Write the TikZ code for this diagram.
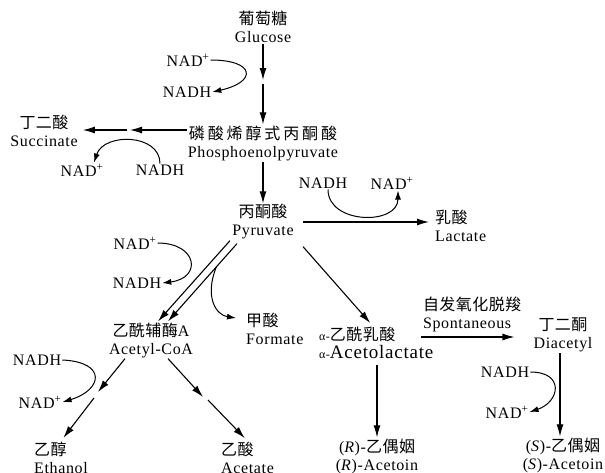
\documentclass[tikz,border=0pt]{standalone}
\usepackage{fontspec}
\setmainfont{Liberation Serif}[LetterSpace=4]
\newfontfamily\zh{Noto Sans CJK SC}[LetterSpace=3]
\usetikzlibrary{arrows.meta}
\tikzset{>=Latex}
\tikzset{
  cmpd/.style = {align = center, inner sep = 1pt, font = \fontsize{16}{18}\selectfont},
  cmpdl/.style = {cmpd, align = left, anchor = west},
  cof/.style = {inner sep = 1pt, font = \fontsize{16}{18}\selectfont},
  flow/.style = {draw, line width = 1.1pt, -{Latex[length = 12pt, width = 7pt]}},
  redox/.style = {draw, line width = 1pt, -{Latex[length = 9pt, width = 6pt]}}
}

\begin{document}
\begin{tikzpicture}[x = 1pt, y = -1pt]
\useasboundingbox (0, 0) rectangle (605, 472);

\node[cmpd] (glc) at (263, 27) {{\zh 葡萄糖}\\Glucose};
\node[cmpd] (pep) at (263, 143) {{\zh\addfontfeature{LetterSpace = 18}磷酸烯醇式丙酮酸}\\Phosphoenolpyruvate};
\node[cmpd] (succ) at (44, 131) {{\zh 丁二酸}\\Succinate};
\node[cmpd] (pyr) at (263, 222) {{\zh 丙酮酸}\\Pyruvate};
\node[cmpdl] (lact) at (434, 226) {{\zh 乳酸}\\Lactate};
\node[cmpd] (acoa) at (151, 340) {{\zh 乙酰辅酶}A\\Acetyl-CoA};
\node[cmpdl] (form) at (245, 329) {{\zh 甲酸}\\Formate};
\node[cmpdl] (aclac) at (318, 343) {{\fontsize{12}{12}\selectfont α-}{\zh 乙酰乳酸}\\{\fontsize{12}{12}\selectfont α-}{\fontsize{19}{19}\selectfont Acetolactate}};
\node[cmpd] (diac) at (563, 335) {{\zh 丁二酮}\\Diacetyl};
\node[cmpd] (racet) at (377, 456) {(\textit{R})-{\zh 乙偶姻}\\(\textit{R})-Acetoin};
\node[cmpd] (sacet) at (563, 455) {(\textit{S})-{\zh 乙偶姻}\\(\textit{S})-Acetoin};
\node[cmpdl] (eth) at (33, 458) {{\zh 乙醇}\\Ethanol};
\node[cmpdl] (acet) at (220, 458) {{\zh 乙酸}\\Acetate};

\node[cof] (nadA) at (188, 60) {NAD\textsuperscript{+}};
\node[cof] (nadhA) at (187, 92) {NADH};
\node[cof] (nadhB) at (160, 170) {NADH};
\node[cof] (nadB) at (82, 170) {NAD\textsuperscript{+}};
\node[cof] (nadhC) at (323, 183) {NADH};
\node[cof] (nadC) at (392, 183) {NAD\textsuperscript{+}};
\node[cof] (nadD) at (135, 243) {NAD\textsuperscript{+}};
\node[cof] (nadhD) at (137, 283) {NADH};
\node[cof] (nadhE) at (37, 360) {NADH};
\node[cof] (nadE) at (40, 402) {NAD\textsuperscript{+}};
\node[cof] (nadhF) at (505, 372) {NADH};
\node[cof] (nadF) at (507, 412) {NAD\textsuperscript{+}};

\coordinate (g1) at (263, 82);
\coordinate (p1) at (128, 130);
\coordinate (e1) at (96, 395);
\coordinate (a1) at (206, 399);

\draw[flow] (glc.south) -- ([yshift = 2pt]g1);
\draw[flow] ([yshift = -2pt]g1) -- (pep.north);
\draw[flow] ([yshift = 13pt]pep.west) -- ([xshift = 2pt]p1);
\draw[flow, shorten >= 4pt] ([xshift = -1pt]p1) -- (succ.east |- p1);
\draw[flow] (pep.south) -- (pyr.north);
\draw[flow, shorten <= 8pt, shorten >= 5pt] (pyr.east) -- (pyr.east -| lact.west);
\draw[flow] ([xshift = -33pt]pyr.south) -- ([xshift = 7pt]acoa.north);
\draw[flow] ([xshift = -26pt, yshift = -3pt]pyr.south) -- coordinate[pos = 0.3] (fork) ([xshift = 17pt]acoa.north);
\draw[redox] (fork) .. controls +(-12, 30) and +(-20, -3) .. ([xshift = -9pt, yshift = 11pt]form.west);
\draw[flow] ([xshift = 40pt, yshift = -6pt]pyr.south) -- ([xshift = -6pt, yshift = 3pt]aclac.north);
\draw[flow, shorten <= 5pt] (racet.north |- aclac.south) -- (racet.north);
\draw[flow, shorten >= 5pt] ([xshift = -13pt, yshift = 6pt]aclac.east) -- ([xshift = -13pt, yshift = 6pt]aclac.east -| diac.west)
  node[cmpd, pos = 0, anchor = south west, align = left, yshift = 4pt] (spont) {{\zh 自发氧化脱羧}\\Spontaneous};
\draw[flow] ([xshift = -3pt]diac.south) -- ([xshift = -3pt]sacet.north);
\draw[flow] ([xshift = -26pt]acoa.south) -- ([xshift = 2pt, yshift = 3pt]e1);
\draw[flow, shorten >= 4pt] ([xshift = -2pt, yshift = -3pt]e1) -- (eth.north);
\draw[flow] ([xshift = 17pt]acoa.south) -- ([xshift = -3pt, yshift = 2pt]a1);
\draw[flow, shorten >= 4pt] ([xshift = 2pt, yshift = -1pt]a1) -- (acet.north);

\draw[redox] (nadA.east) .. controls +(45, 0) and +(45, -10) .. (nadhA.east);
\draw[redox] (nadhB.north) .. controls +(0, -30) and +(10, -30) .. ([xshift = 12pt]nadB.north);
\draw[redox] ([xshift = 5pt]nadhC.south) .. controls +(0, 35) and +(0, 35) .. ([xshift = 6pt]nadC.south);
\draw[redox] (nadD.east) .. controls +(40, 0) and +(40, -5) .. (nadhD.east);
\draw[redox] (nadhE.east) .. controls +(45, 2) and +(40, -12) .. (nadE.east);
\draw[redox] (nadhF.east) .. controls +(35, 0) and +(30, -10) .. (nadF.east);

\end{tikzpicture}
\end{document}
